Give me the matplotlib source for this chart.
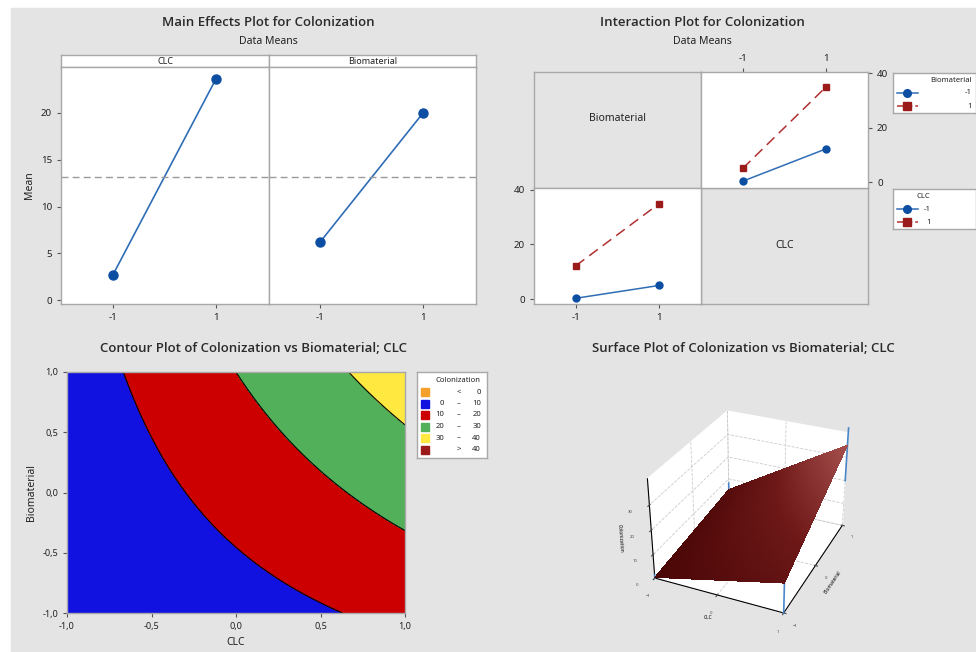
# Recreate Minitab factorial plots for Colonization
import numpy as np
import matplotlib.pyplot as plt
from matplotlib.colors import LinearSegmentedColormap
from matplotlib.patches import Rectangle

plt.rcParams['font.family'] = ['Noto Sans', 'DejaVu Sans']

W, H = 976, 652

# factor levels and cell means (rows: CLC, cols: Biomaterial)
levels = [-1, 1]
cell_means = np.array([[0.3, 5.0],
                       [12.2, 35.0]])
contour_levels = [-1000, 0, 10, 20, 30, 40, 1000]
contour_colors = ['#f5a02a', '#1212e0', '#cc0000', '#52b05a', '#ffe840', '#9b1a1a']
contour_labels = [('', '<', '0'), ('0', '–', '10'), ('10', '–', '20'),
                  ('20', '–', '30'), ('30', '–', '40'), ('', '>', '40')]
contour_ticks = [-1.0, -0.5, 0.0, 0.5, 1.0]
contour_ticklabels = ['-1,0', '-0,5', '0,0', '0,5', '1,0']

BLUE = '#2f6db5'
BLUE_M = '#0b4ea2'
RED = '#9b1a1a'
FRAME = '#a8a8a8'
BG = '#e4e4e4'
TXT = '#222222'


def rect(x0, y0, x1, y1):
    """Pixel box (top-left origin) to figure fraction."""
    return [x0 / W, 1 - y1 / H, (x1 - x0) / W, (y1 - y0) / H]


def style_axes(ax, face='white'):
    ax.set_facecolor(face)
    for s in ax.spines.values():
        s.set_color(FRAME)
        s.set_linewidth(1.0)
    ax.tick_params(colors='#555555', labelcolor=TXT, labelsize=7, length=3, width=0.8)


def bilinear(x, y):
    u = (x + 1) / 2
    v = (y + 1) / 2
    m = cell_means
    return (m[0, 0] * (1 - u) * (1 - v) + m[1, 0] * u * (1 - v)
            + m[0, 1] * (1 - u) * v + m[1, 1] * u * v)


def title(fig, x, y, text):
    fig.text(x / W, 1 - y / H, text, ha='center', va='center', fontsize=9.5,
             family=['Open Sans', 'DejaVu Sans'], fontweight='semibold', color='#2a2a2a')


def subtitle(fig, x, y):
    fig.text(x / W, 1 - y / H, 'Data Means', ha='center', va='center',
             fontsize=7.5, color=TXT)


def main_effects(fig):
    title(fig, 268, 23, 'Main Effects Plot for Colonization')
    subtitle(fig, 268, 41)
    clc_means = cell_means.mean(axis=1)
    bio_means = cell_means.mean(axis=0)
    grand = cell_means.mean()
    panels = [('CLC', clc_means, 61, 269), ('Biomaterial', bio_means, 269, 476)]
    for i, (name, means, x0, x1) in enumerate(panels):
        strip = fig.add_axes(rect(x0, 55, x1, 67))
        style_axes(strip)
        strip.set_xticks([])
        strip.set_yticks([])
        strip.text(0.5, 0.45, name, ha='center', va='center', fontsize=6.5,
                   color=TXT, transform=strip.transAxes)
        ax = fig.add_axes(rect(x0, 67, x1, 304))
        style_axes(ax)
        ax.plot(levels, means, color=BLUE, lw=1.2, marker='o', ms=6.5,
                mfc=BLUE_M, mec=BLUE_M)
        ax.axhline(grand, color='#9a9a9a', lw=1, ls=(0, (5, 3)))
        ax.set_xlim(-2, 2.03)
        ax.set_ylim(-0.4, 24.9)
        ax.set_xticks(levels)
        ax.set_xticklabels(['-1', '1'])
        if i == 0:
            ax.set_yticks([0, 5, 10, 15, 20])
            ax.set_ylabel('Mean', fontsize=7.5, color=TXT)
        else:
            ax.set_yticks([])


def interaction(fig):
    title(fig, 702, 23, 'Interaction Plot for Colonization')
    subtitle(fig, 702, 41)
    tl = fig.add_axes(rect(534, 72, 701, 188))
    br = fig.add_axes(rect(701, 188, 868, 304))
    for ax, label in [(tl, 'Biomaterial'), (br, 'CLC')]:
        style_axes(ax, BG)
        ax.set_xticks([])
        ax.set_yticks([])
        ax.text(0.5, 0.6 if label == 'Biomaterial' else 0.5, label, ha='center',
                va='center', fontsize=7.5, color=TXT, transform=ax.transAxes)

    # top right: x = CLC, lines by Biomaterial
    tr = fig.add_axes(rect(701, 72, 868, 188))
    style_axes(tr)
    tr.plot(levels, cell_means[:, 0], color=BLUE, lw=1.1, marker='o', ms=5,
            mfc=BLUE_M, mec=BLUE_M)
    tr.plot(levels, cell_means[:, 1], color='#b03030', lw=1.1, ls=(0, (7, 4)),
            marker='s', ms=5, mfc=RED, mec=RED)
    tr.set_xlim(-2, 2)
    tr.set_ylim(-2.2, 40.4)
    tr.xaxis.tick_top()
    tr.yaxis.tick_right()
    tr.set_xticks(levels)
    tr.set_xticklabels(['-1', '1'])
    tr.set_yticks([0, 20, 40])

    # bottom left: x = Biomaterial, lines by CLC
    bl = fig.add_axes(rect(534, 188, 701, 304))
    style_axes(bl)
    bl.plot(levels, cell_means[0, :], color=BLUE, lw=1.1, marker='o', ms=5,
            mfc=BLUE_M, mec=BLUE_M)
    bl.plot(levels, cell_means[1, :], color='#b03030', lw=1.1, ls=(0, (7, 4)),
            marker='s', ms=5, mfc=RED, mec=RED)
    bl.set_xlim(-2, 2)
    bl.set_ylim(-1.8, 40.7)
    bl.set_xticks(levels)
    bl.set_xticklabels(['-1', '1'])
    bl.set_yticks([0, 20, 40])

    # legends
    for y0, name, tx in [(73, 'Biomaterial', 0.95), (189, 'CLC', 0.45)]:
        lg = fig.add_axes(rect(893, y0, 976, y0 + 40))
        style_axes(lg)
        lg.set_xlim(0, 1)
        lg.set_ylim(0, 1)
        lg.set_xticks([])
        lg.set_yticks([])
        lg.text(tx, 0.82, name, ha='right', va='center', fontsize=5.5, color=TXT)
        lg.plot([0.05, 0.3], [0.5, 0.5], color=BLUE, lw=1.1)
        lg.plot([0.17], [0.5], marker='o', ms=5.5, color=BLUE_M)
        lg.plot([0.05, 0.3], [0.17, 0.17], color='#b03030', lw=1.1, ls=(0, (4, 2)))
        lg.plot([0.17], [0.17], marker='s', ms=5.5, color=RED)
        lg.text(tx, 0.5, '-1', ha='right', va='center', fontsize=5.5, color=TXT)
        lg.text(tx, 0.17, '1', ha='right', va='center', fontsize=5.5, color=TXT)


def contour(fig):
    title(fig, 253, 349, 'Contour Plot of Colonization vs Biomaterial; CLC')
    ax = fig.add_axes(rect(67, 372, 405, 613))
    style_axes(ax)
    g = np.linspace(-1, 1, 301)
    xx, yy = np.meshgrid(g, g)
    zz = bilinear(xx, yy)
    ax.contourf(xx, yy, zz, levels=contour_levels, colors=contour_colors)
    ax.contour(xx, yy, zz, levels=contour_levels[1:-1], colors='black',
               linewidths=0.8)
    ax.set_xlim(-1, 1)
    ax.set_ylim(-1, 1)
    ax.set_xticks(contour_ticks)
    ax.set_xticklabels(contour_ticklabels)
    ax.set_yticks(contour_ticks)
    ax.set_yticklabels(contour_ticklabels)
    ax.tick_params(labelsize=6.5)
    ax.set_xlabel('CLC', fontsize=7.5, color=TXT)
    ax.set_ylabel('Biomaterial', fontsize=7.5, color=TXT)

    lg = fig.add_axes(rect(417, 372, 487, 458))
    style_axes(lg)
    lg.set_xlim(417, 487)
    lg.set_ylim(458, 372)
    lg.set_xticks([])
    lg.set_yticks([])
    lg.text(458, 381, 'Colonization', ha='center', va='center', fontsize=5.5, color=TXT)
    for i, (c, (lo, dash, hi)) in enumerate(zip(contour_colors, contour_labels)):
        y = 392 + i * 11.5
        lg.add_patch(Rectangle((420.5, y - 4), 8, 8, color=c))
        lg.text(444, y, lo, ha='right', va='center', fontsize=5.5, color=TXT)
        lg.text(459, y, dash, ha='center', va='center', fontsize=5.5, color=TXT)
        lg.text(481, y, hi, ha='right', va='center', fontsize=5.5, color=TXT)


def surface(fig):
    title(fig, 743, 349, 'Surface Plot of Colonization vs Biomaterial; CLC')
    ax = fig.add_axes(rect(585, 383, 915, 632), projection='3d')
    ax.set_facecolor(BG)
    g = np.linspace(-1, 1, 40)
    xx, yy = np.meshgrid(g, g)
    zz = bilinear(xx, yy)
    cmap = LinearSegmentedColormap.from_list('maroon', ['#4a0606', '#6e1818', '#a85250'])
    ax.plot_surface(xx, yy, zz, facecolors=cmap(zz / zz.max()), linewidth=0,
                    antialiased=False, shade=False)
    # raw observation spread at the corners
    for x, y, z0, z1 in [(-1, -1, 0, 1.5), (-1, 1, 5, 8), (1, -1, 0, 12.2), (1, 1, 20, 42)]:
        ax.plot([x, x], [y, y], [z0, z1], color='#4a86c6', lw=1.2)
    ax.set_xlim(-1, 1)
    ax.set_ylim(-1, 1)
    ax.set_zlim(0, 40)
    ax.set_xticks([-1, 0, 1])
    ax.set_yticks([-1, 0, 1])
    ax.set_zticks([0, 10, 20, 30])
    ax.tick_params(labelsize=3, pad=0, colors='#444444')
    ax.set_xlabel('CLC', fontsize=3.5, labelpad=-10)
    ax.set_ylabel('Biomaterial', fontsize=3.5, labelpad=-8)
    ax.set_zlabel('Colonization', fontsize=3.5, labelpad=-8)
    for axis in (ax.xaxis, ax.yaxis, ax.zaxis):
        axis.set_pane_color((1, 1, 1, 1))
        axis._axinfo['grid']['color'] = '#cccccc'
        axis._axinfo['grid']['linestyle'] = '--'
        axis._axinfo['grid']['linewidth'] = 0.6
    ax.zaxis.set_ticks_position('lower')
    ax.zaxis.set_label_position('lower')
    ax.view_init(elev=30, azim=-66)
    ax.set_proj_type('persp', focal_length=0.6)
    ax.set_box_aspect((1.05, 1.3, 0.85), zoom=0.95)


def main():
    fig = plt.figure(figsize=(W / 100, H / 100), dpi=100)
    fig.patches.append(Rectangle((11 / W, 0), 1, 1 - 8 / H, transform=fig.transFigure,
                                 color=BG, zorder=-10))
    main_effects(fig)
    interaction(fig)
    contour(fig)
    surface(fig)
    fig.savefig('out.png', dpi=100)


if __name__ == '__main__':
    main()
